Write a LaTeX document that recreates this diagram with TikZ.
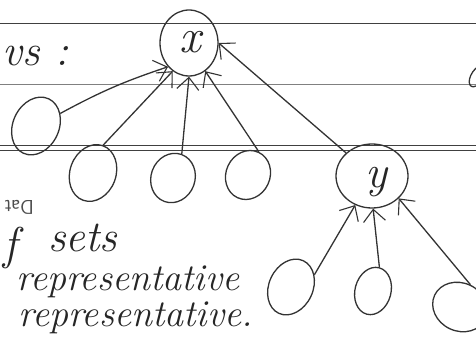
\documentclass[tikz,border=0pt]{standalone}
\usetikzlibrary{shapes.geometric,arrows.meta}
\begin{document}
\begin{tikzpicture}[x=1pt,y=-1pt,
  ink/.style={draw=black!80,line width=1.3pt},
  oval/.style={ink,ellipse,inner sep=0pt},
  arr/.style={ink,-{Straight Barb[length=12pt,width=22pt,line width=1.1pt]}},
  rule/.style={draw=black!75,line width=0.8pt},
  hand/.style={font=\itshape,text=black!85,inner sep=0pt}]
\useasboundingbox (0,0) rectangle (476,358);
\fill[white] (0,0) rectangle (476,358);
% ruled lines
\draw[rule] (0,23) -- (476,23);
\draw[rule,draw=black!50] (0,84) -- (476,84);
\draw[rule] (0,145) -- (476,145);
\draw[rule] (0,150) -- (476,150);
% nodes
\node[oval,minimum width=58pt,minimum height=66pt] (x) at (189,43) {};
\node[hand,font=\itshape\fontsize{48}{48}\selectfont] (xl) at (190,42) {x};
\node[oval,minimum width=72pt,minimum height=64pt] (y) at (372,176) {};
\node[hand,font=\itshape\fontsize{46}{46}\selectfont] (yl) at (376,182) {y};
\node[oval,minimum width=46pt,minimum height=60pt,rotate=-25] (l0) at (36,126) {};
\node[oval,minimum width=46pt,minimum height=58pt,rotate=-20] (b1) at (93,173) {};
\node[oval,minimum width=44pt,minimum height=50pt,rotate=-20] (b2) at (173,178) {};
\node[oval,minimum width=44pt,minimum height=50pt,rotate=-25] (b3) at (248,175) {};
\node[oval,minimum width=44pt,minimum height=58pt,rotate=-25] (c1) at (291,287) {};
\node[oval,minimum width=36pt,minimum height=48pt,rotate=-15] (c2) at (373,291) {};
\node[oval,minimum width=56pt,minimum height=48pt,rotate=-25] (c3) at (460,307) {};
% edges
\draw[arr] (l0.north east) to[bend left=5] (x.south west);
\draw[arr] (b1.north) -- (x.-120);
\draw[arr] (b2.north) -- (x.-90);
\draw[arr] (b3.north) -- (x.-60);
\draw[arr] (y.north west) -- (x.east);
\draw[arr] (c1.north east) -- (y.-120);
\draw[arr] (c2.north) -- (y.-88);
\draw[arr] (c3.north) -- (y.-40);
% texts
\node[hand,anchor=west,font=\itshape\fontsize{44}{44}\selectfont] (vs) at (2,56) {vs :};
\node[font=\sffamily\fontsize{20}{20}\selectfont,text=black!70,rotate=180,anchor=east] (dat) at (1,207) {Dat};
\node[hand,anchor=west,font=\itshape\fontsize{46}{46}\selectfont] (f) at (3,248) {f};
\node[hand,anchor=west,font=\itshape\fontsize{44}{44}\selectfont] (sets) at (48,238) {sets};
\node[hand,anchor=west,font=\itshape\fontsize{38}{38}\selectfont] (r1) at (16,282) {representative};
\node[hand,anchor=west,font=\itshape\fontsize{38}{38}\selectfont] (r2) at (18,318) {representative.};
\draw[ink] (476,68) .. controls (466,78) and (468,90) .. (476,86);
\end{tikzpicture}
\end{document}
